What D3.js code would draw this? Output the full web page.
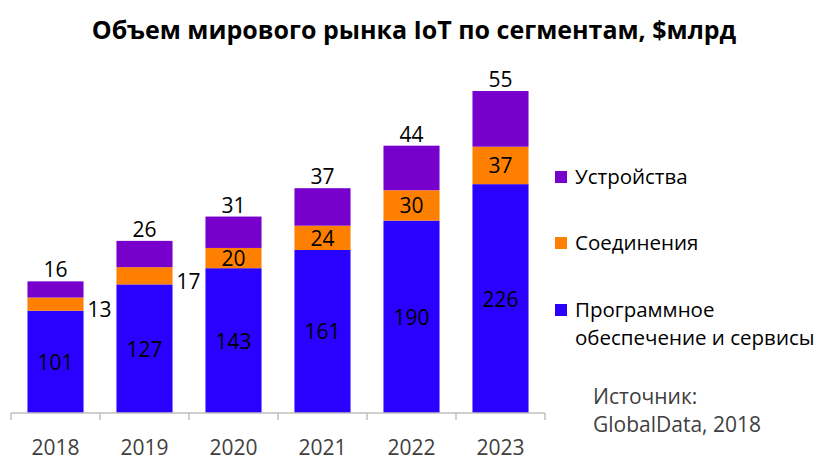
<!DOCTYPE html>
<html>
<head>
<meta charset="utf-8">
<script src="https://cdn.jsdelivr.net/npm/d3@7"></script>
<style>
body { margin: 0; background: #fff; }
svg text { font-family: "Open Sans", "Noto Sans", sans-serif; }
</style>
</head>
<body>
<svg id="chart" width="828" height="464"></svg>
<script>
// данные с картинки
const years = ["2018", "2019", "2020", "2021", "2022", "2023"];
const software = [101, 127, 143, 161, 190, 226];
const connectivity = [13, 17, 20, 24, 30, 37];
const devices = [16, 26, 31, 37, 44, 55];
const seriesNames = ["Программное обеспечение и сервисы", "Соединения", "Устройства"];
const seriesColors = ["#2a00ff", "#ff8000", "#7700cc"];
const titleText = "Объем мирового рынка IoT по сегментам, $млрд";
const sourceLines = ["Источник:", "GlobalData, 2018"];

const svg = d3.select("#chart");

const rows = years.map((y, i) => ({ year: y, s: software[i], c: connectivity[i], d: devices[i] }));
const stack = d3.stack().keys(["s", "c", "d"])(rows);

const x = d3.scaleBand().domain(years).range([11, 545]).paddingInner(0.37).paddingOuter(0.185);
const y = d3.scaleLinear().domain([0, 318]).range([413, 91]);

svg.append("text")
    .attr("x", 414).attr("y", 39)
    .attr("text-anchor", "middle")
    .attr("font-weight", "bold")
    .attr("font-size", 25)
    .attr("fill", "#000")
    .text(titleText);

const layers = svg.selectAll("g.layer").data(stack).join("g")
    .attr("class", "layer")
    .attr("fill", (d, i) => seriesColors[i]);

layers.selectAll("rect").data(d => d).join("rect")
    .attr("x", d => x(d.data.year))
    .attr("y", d => y(d[1]))
    .attr("width", x.bandwidth())
    .attr("height", d => y(d[0]) - y(d[1]));

// ось
const axis = svg.append("g").attr("transform", "translate(0,413)")
    .call(d3.axisBottom(x).tickSize(0).tickPadding(27));
axis.select(".domain").attr("stroke", "#bfbfbf").attr("stroke-width", 1.5).attr("d", "M11,0H545");
axis.selectAll("text").attr("font-size", 21).attr("fill", "#404040")
    .attr("font-family", "Open Sans, sans-serif");
const step = x.step();
axis.selectAll("line.sep").data(d3.range(years.length + 1)).join("line")
    .attr("class", "sep")
    .attr("x1", i => 11 + i * step).attr("x2", i => 11 + i * step)
    .attr("y1", 0).attr("y2", 7)
    .attr("stroke", "#bfbfbf").attr("stroke-width", 1.5);

const lbl = svg.append("g").attr("font-size", 21).attr("fill", "#000").attr("text-anchor", "middle");

// софт — в центре сегмента
lbl.selectAll("text.s").data(stack[0]).join("text")
    .attr("x", d => x(d.data.year) + x.bandwidth() / 2)
    .attr("y", d => (y(d[0]) + y(d[1])) / 2 + 8)
    .text(d => d.data.s);

// соединения — маленькие сегменты подписываем справа
lbl.selectAll("text.c").data(stack[1]).join("text")
    .attr("x", d => d.data.c < 20 ? x(d.data.year) + x.bandwidth() + 16 : x(d.data.year) + x.bandwidth() / 2)
    .attr("y", d => (y(d[0]) + y(d[1])) / 2 + (d.data.c < 20 ? 13 : 8))
    .text(d => d.data.c);

// устройства — над столбиком
lbl.selectAll("text.d").data(stack[2]).join("text")
    .attr("x", d => x(d.data.year) + x.bandwidth() / 2)
    .attr("y", d => y(d[1]) - 4)
    .text(d => d.data.d);

// легенда
const legend = svg.append("g").attr("font-size", 20.5).attr("fill", "#000");
const legendItems = [
    { name: seriesNames[2], color: seriesColors[2], y: 177 },
    { name: seriesNames[1], color: seriesColors[1], y: 243 },
    { name: seriesNames[0], color: seriesColors[0], y: 310 }
];
legendItems.forEach(it => {
    legend.append("rect").attr("x", 555).attr("y", it.y - 6).attr("width", 12).attr("height", 12).attr("fill", it.color);
    const words = it.name === seriesNames[0] ? ["Программное", "обеспечение и сервисы"] : [it.name];
    words.forEach((w, j) => {
        legend.append("text").attr("x", 575).attr("y", it.y + 7 + j * 28).text(w);
    });
});

svg.append("g").attr("font-size", 21).attr("fill", "#404040")
    .selectAll("text").data(sourceLines).join("text")
    .attr("x", 593).attr("y", (d, i) => 404 + i * 28)
    .text(d => d);
</script>
</body>
</html>
